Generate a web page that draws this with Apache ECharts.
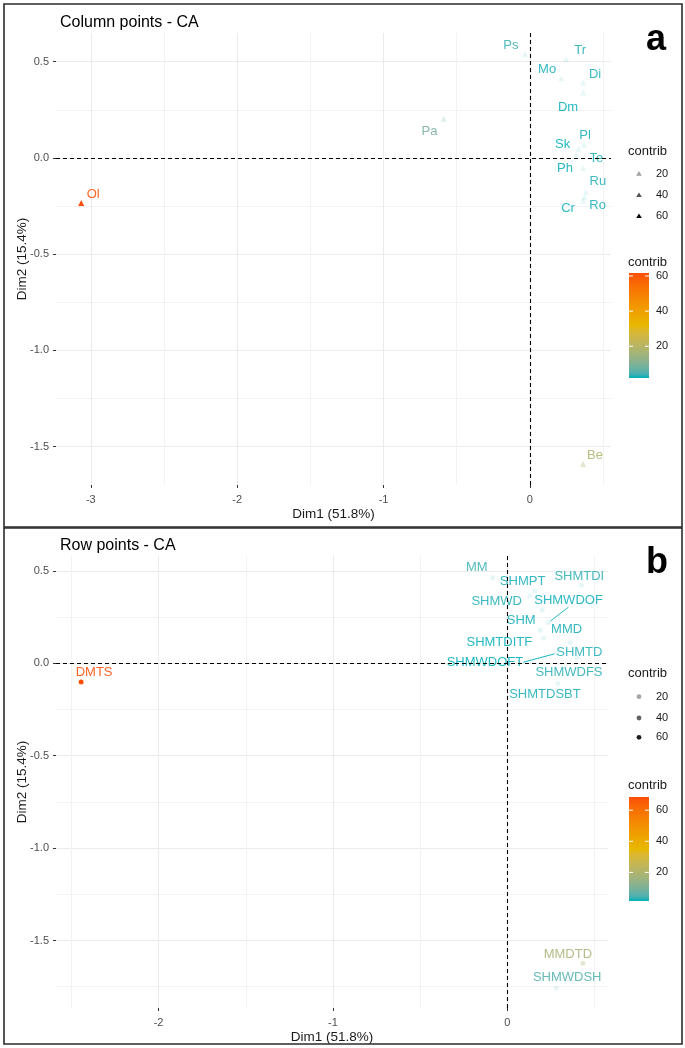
<!DOCTYPE html>
<html><head><meta charset="utf-8">
<script src="https://cdn.jsdelivr.net/npm/echarts@6/dist/echarts.min.js"></script>
<style>html,body{margin:0;padding:0;background:#fff}#c{width:685px;height:1048px}</style>
</head><body><div id="c"></div>
<script>
// ---------- DATA ----------
const colNames   = ['Ol','Pa','Ps','Tr','Mo','Di','Dm','Pl','Sk','Te','Ph','Ru','Ro','Cr','Be'];
const colDim1    = [-3.066,-0.590,-0.034,0.248,0.213,0.363,0.363,0.370,0.333,0.317,0.363,0.382,0.374,0.363,0.363];
const colDim2    = [-0.234,0.204,0.538,0.512,0.414,0.392,0.340,0.068,0.047,0.018,-0.052,-0.179,-0.205,-0.223,-1.591];
const colContrib = [61.7,9,3.5,2.5,2.2,2.4,2.0,2.2,1.9,2.3,2.0,2.6,2.4,2.1,18];

const rowNames   = ['DMTS','MM','SHMPT','SHMWD','SHMTDI','SHMWDOF','SHM','SHMTDITF','MMD','SHMTD','SHMWDOFT','SHMWDFS','SHMTDSBT','MMDTD','SHMWDSH'];
const rowDim1    = [-2.444,-0.084,0.156,0.128,0.424,0.236,0.200,0.189,0.208,0.361,0.284,0.399,0.290,0.433,0.280];
const rowDim2    = [-0.101,0.463,0.391,0.364,0.422,0.220,0.286,0.178,0.135,0.112,0.054,0.031,-0.110,-1.623,-1.758];
const rowContrib = [68.5,3.5,2.0,2.2,2.8,1.8,1.9,1.7,2.0,2.4,1.6,2.6,2.2,18,5];

const xTicksTop = [-3,-2,-1,0];
const xTicksBot = [-2,-1,0];
const yTicks    = [0.5,0,-0.5,-1,-1.5];
const legendTicks = [20,40,60];

// ---------- STYLE ----------
const colLabelOffset = {Ol:[12,-8],Pa:[-14,13],Ps:[-14,-9],Tr:[14,-9],Mo:[-14,-9],Di:[12,-8],Dm:[-15,15],
  Pl:[1,-9],Sk:[-16,-4],Te:[20,4],Ph:[-18,1],Ru:[12,-11],Ro:[13,8],Cr:[-15,8],Be:[12,-9]};
const rowLabelOffset = {DMTS:[13,-9],MM:[-16,-10],SHMPT:[-12,-10],SHMWD:[-33,5],SHMTDI:[-2,-9],SHMWDOF:[20,-22],
  SHM:[-21,10],SHMTDITF:[-41,12],MMD:[23,-9],SHMTD:[9,10],SHMWDOFT:[-72,9],SHMWDFS:[-8,15],SHMTDSBT:[-13,11],
  MMDTD:[-15,-9],SHMWDSH:[11,-11]};
const leaderLines = {SHMWDOF:true, SHMWDOFT:true};
const FF = 'Liberation Sans, Arial, sans-serif';

const stopCols = [[0,175,187],[231,184,0],[252,78,7]];

// --- Lab interpolation (like ggplot's colour ramp) ---
function toLin(c){ c/=255; return c<=0.04045 ? c/12.92 : Math.pow((c+0.055)/1.055,2.4); }
function fromLin(c){ const v = c<=0.0031308 ? 12.92*c : 1.055*Math.pow(c,1/2.4)-0.055; return Math.round(Math.max(0,Math.min(1,v))*255); }
function rgb2lab(c){
  const R=toLin(c[0]),G=toLin(c[1]),B=toLin(c[2]);
  let X=(0.4124*R+0.3576*G+0.1805*B)/0.95047, Y=(0.2126*R+0.7152*G+0.0722*B), Z=(0.0193*R+0.1192*G+0.9505*B)/1.08883;
  const f=t=> t>0.008856 ? Math.cbrt(t) : 7.787*t+16/116;
  const fx=f(X),fy=f(Y),fz=f(Z);
  return [116*fy-16, 500*(fx-fy), 200*(fy-fz)];
}
function lab2rgb(l){
  const fy=(l[0]+16)/116, fx=fy+l[1]/500, fz=fy-l[2]/200;
  const fi=t=> t*t*t>0.008856 ? t*t*t : (t-16/116)/7.787;
  const X=fi(fx)*0.95047, Y=fi(fy), Z=fi(fz)*1.08883;
  const R= 3.2406*X-1.5372*Y-0.4986*Z, G=-0.9689*X+1.8758*Y+0.0415*Z, B=0.0557*X-0.2040*Y+1.0570*Z;
  return [fromLin(R),fromLin(G),fromLin(B)];
}
const stopLab = stopCols.map(rgb2lab);
function rampAt(t){
  t = Math.max(0, Math.min(1, t));
  const seg = t > 0.5 ? 1 : 0;
  const s = (t - seg*0.5)/0.5;
  const a = stopLab[seg], b = stopLab[seg+1];
  return 'rgb('+lab2rgb(a.map((x,i)=>x+(b[i]-x)*s)).join(',')+')';
}
function gradColor(v, lo, hi){ return rampAt((v-lo)/(hi-lo)); }
function alphaOf(v, lo, hi){ return 0.1 + 0.9*Math.max(0,Math.min(1,(v-lo)/(hi-lo))); }

function buildSeries(names, d1, d2, contrib, symbol, size, offsets, gridIdx){
  const lo = Math.min(...contrib), hi = Math.max(...contrib);
  const data = names.map((n,i)=>{
    const col = gradColor(contrib[i], lo, hi);
    const item = {
      name:n, value:[d1[i], d2[i]],
      itemStyle:{color:col, opacity:alphaOf(contrib[i],lo,hi)},
      label:{color:col, opacity:0.88}
    };
    if (leaderLines[n]) item.labelLine = {show:true, lineStyle:{color:col, width:1, opacity:0.9}};
    return item;
  });
  return {
    type:'scatter', xAxisIndex:gridIdx, yAxisIndex:gridIdx,
    symbol:symbol, symbolSize:size, data:data, z:3,
    label:{show:true, position:'inside', formatter:'{b}', fontSize:13, fontFamily:FF},
    labelLine:{show:false},
    labelLayout:function(p){ const o = offsets[names[p.dataIndex]] || [0,0]; return {dx:o[0], dy:o[1]}; },
    markLine:{silent:true, symbol:['none','none'], label:{show:false},
      lineStyle:{color:'#000', type:[4,3], width:1.1}, animation:false,
      data:[{xAxis:0},{yAxis:0}]},
    animation:false
  };
}

const fmtX = v => String(Math.round(v));
const fmtY = v => v.toFixed(1);
function xAxis(gi, min, max, split, ticks){
  return {type:'value', gridIndex:gi, min:min, max:max, splitNumber:split,
    name:'Dim1 (51.8%)', nameLocation:'middle', nameGap:22, nameMoveOverlap:false,
    nameTextStyle:{color:'#1a1a1a', fontSize:13.5, fontFamily:FF},
    axisLine:{show:false, onZero:false},
    axisTick:{show:true, length:3, customValues:ticks, lineStyle:{color:'#333', width:1}},
    axisLabel:{customValues:ticks, formatter:fmtX, color:'#4d4d4d', fontSize:11, margin:9, fontFamily:FF},
    splitLine:{show:true, lineStyle:{color:'#EBEBEB', width:1}},
    minorTick:{show:false, splitNumber:2},
    minorSplitLine:{show:true, lineStyle:{color:'#F3F3F3', width:1}}};
}
function yAxis(gi, min, max){
  return {type:'value', gridIndex:gi, min:min, max:max, splitNumber:5,
    name:'Dim2 (15.4%)', nameLocation:'middle', nameGap:27, nameMoveOverlap:false,
    nameTextStyle:{color:'#1a1a1a', fontSize:13.5, fontFamily:FF},
    axisLine:{show:false, onZero:false},
    axisTick:{show:true, length:3, customValues:yTicks, lineStyle:{color:'#333', width:1}},
    axisLabel:{customValues:yTicks, formatter:fmtY, color:'#4d4d4d', fontSize:11, margin:7, fontFamily:FF},
    splitLine:{show:true, lineStyle:{color:'#EBEBEB', width:1}},
    minorTick:{show:false, splitNumber:2},
    minorSplitLine:{show:true, lineStyle:{color:'#F3F3F3', width:1}}};
}

// ---------- LEGENDS (graphic) ----------
function legendGraphics(contrib, symbolKind, L){
  const lo = Math.min(...contrib), hi = Math.max(...contrib);
  const g = [];
  g.push({type:'text', x:628, y:L.title, style:{text:'contrib', font:'13px '+FF, fill:'#1a1a1a', textVerticalAlign:'middle'}});
  legendTicks.forEach((t,i)=>{
    const cy = L.items[i], cx = 639;
    const op = alphaOf(t, lo, hi);
    if (symbolKind === 'triangle'){
      g.push({type:'polygon', shape:{points:[[cx,cy-2.6],[cx-2.8,cy+2],[cx+2.8,cy+2]]}, style:{fill:'#000', opacity:op}});
    } else {
      g.push({type:'circle', shape:{cx:cx, cy:cy, r:2.4}, style:{fill:'#000', opacity:op}});
    }
    g.push({type:'text', x:656, y:cy, style:{text:String(t), font:'11px '+FF, fill:'#1a1a1a', textVerticalAlign:'middle'}});
  });
  const barTop = L.barTop, barH = L.barBot - L.barTop, barX = 629, barW = 20;
  g.push({type:'text', x:628, y:L.cbTitle, style:{text:'contrib', font:'13px '+FF, fill:'#1a1a1a', textVerticalAlign:'middle'}});
  const nStops = 24, cs = [];
  for (let k=0;k<=nStops;k++) cs.push({offset:k/nStops, color:rampAt(k/nStops)});
  g.push({type:'rect', shape:{x:barX, y:barTop, width:barW, height:barH},
    style:{fill:new echarts.graphic.LinearGradient(0,1,0,0, cs)}});
  legendTicks.forEach(t=>{
    const y = barTop + barH*(1-(t-lo)/(hi-lo));
    g.push({type:'line', shape:{x1:barX, y1:y, x2:barX+4, y2:y}, style:{stroke:'#fff', lineWidth:1}});
    g.push({type:'line', shape:{x1:barX+barW-4, y1:y, x2:barX+barW, y2:y}, style:{stroke:'#fff', lineWidth:1}});
    g.push({type:'text', x:656, y:y, style:{text:String(t), font:'11px '+FF, fill:'#1a1a1a', textVerticalAlign:'middle'}});
  });
  return g;
}

const graphics = [
  {type:'rect', shape:{x:4, y:4, width:678, height:523}, style:{fill:'none', stroke:'#2b2b2b', lineWidth:1.6}, z:10},
  {type:'rect', shape:{x:4, y:528, width:678, height:516}, style:{fill:'none', stroke:'#2b2b2b', lineWidth:1.6}, z:10},
  {type:'text', x:646, y:22, style:{text:'a', font:'bold 36px '+FF, fill:'#000'}},
  {type:'text', x:646, y:545, style:{text:'b', font:'bold 36px '+FF, fill:'#000'}},
  ...legendGraphics(colContrib, 'triangle', {title:151, items:[173.7,195,216], cbTitle:262, barTop:273, barBot:378}),
  ...legendGraphics(rowContrib, 'circle', {title:673, items:[696.7,718,737.3], cbTitle:785, barTop:797, barBot:901})
];

const chart = echarts.init(document.getElementById('c'), null, {renderer:'canvas'});
chart.setOption({
  backgroundColor:'#fff',
  animation:false,
  title:[
    {text:'Column points - CA', left:55, top:10, textStyle:{fontSize:16, fontWeight:'normal', color:'#000', fontFamily:FF}},
    {text:'Row points - CA', left:55, top:533, textStyle:{fontSize:16, fontWeight:'normal', color:'#000', fontFamily:FF}}
  ],
  grid:[
    {left:56, top:33, width:555, height:452},
    {left:56, top:556, width:552, height:452}
  ],
  xAxis:[ xAxis(0, -3.238, 0.554, 4, xTicksTop), xAxis(1, -2.588, 0.577, 3, xTicksBot) ],
  yAxis:[ yAxis(0, -1.70, 0.649), yAxis(1, -1.865, 0.58) ],
  series:[
    buildSeries(colNames, colDim1, colDim2, colContrib, 'triangle', 6, colLabelOffset, 0),
    buildSeries(rowNames, rowDim1, rowDim2, rowContrib, 'circle', 5, rowLabelOffset, 1)
  ],
  graphic:graphics
});
</script></body></html>
